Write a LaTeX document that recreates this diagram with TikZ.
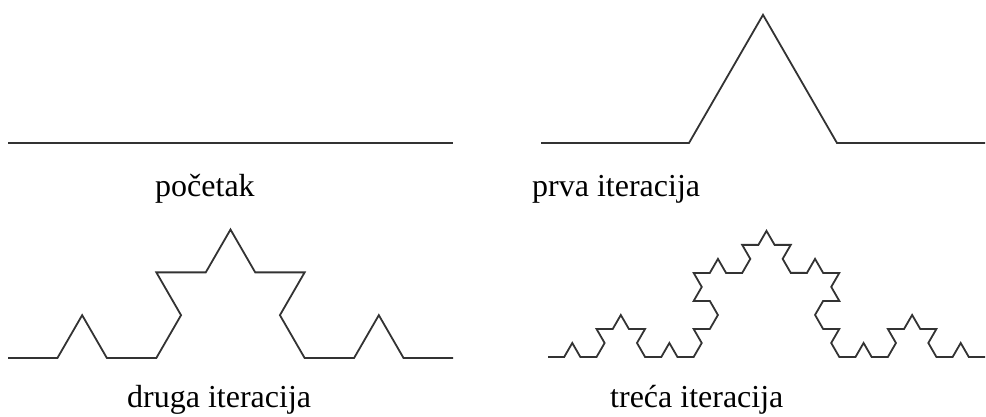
\documentclass[tikz,border=0pt]{standalone}
\usepackage{fontspec}
\setmainfont{Liberation Serif}
\usetikzlibrary{decorations.fractals}
\definecolor{Ink}{HTML}{333333}

\begin{document}
\begin{tikzpicture}[x=1pt,y=-1pt]
    \tikzset{
      curve/.style={draw=Ink,line width=1.8pt,decoration=Koch snowflake},
      caption/.style={anchor=base west,inner sep=0pt,font=\fontsize{32}{38}\selectfont}
    }
    \useasboundingbox (0,0) rectangle (986,416);
    % end points of the four curves
    \coordinate (a1) at (8,143);   \coordinate (a2) at (453,143);
    \coordinate (b1) at (541,143); \coordinate (b2) at (985,143);
    \coordinate (c1) at (8,358);   \coordinate (c2) at (453,358);
    \coordinate (d1) at (548,357); \coordinate (d2) at (985,357);

    \draw[curve] (a1) -- (a2);
    \draw[curve] decorate{(b1) -- (b2)};
    \draw[curve] decorate{decorate{(c1) -- (c2)}};
    \draw[curve] decorate{decorate{decorate{(d1) -- (d2)}}};

    \node[caption] (t0) at (155,196) {početak};
    \node[caption] (t1) at (532,196) {prva iteracija};
    \node[caption] (t2) at (127,407) {druga iteracija};
    \node[caption] (t3) at (610,407) {treća iteracija};
  \end{tikzpicture}
\end{document}
